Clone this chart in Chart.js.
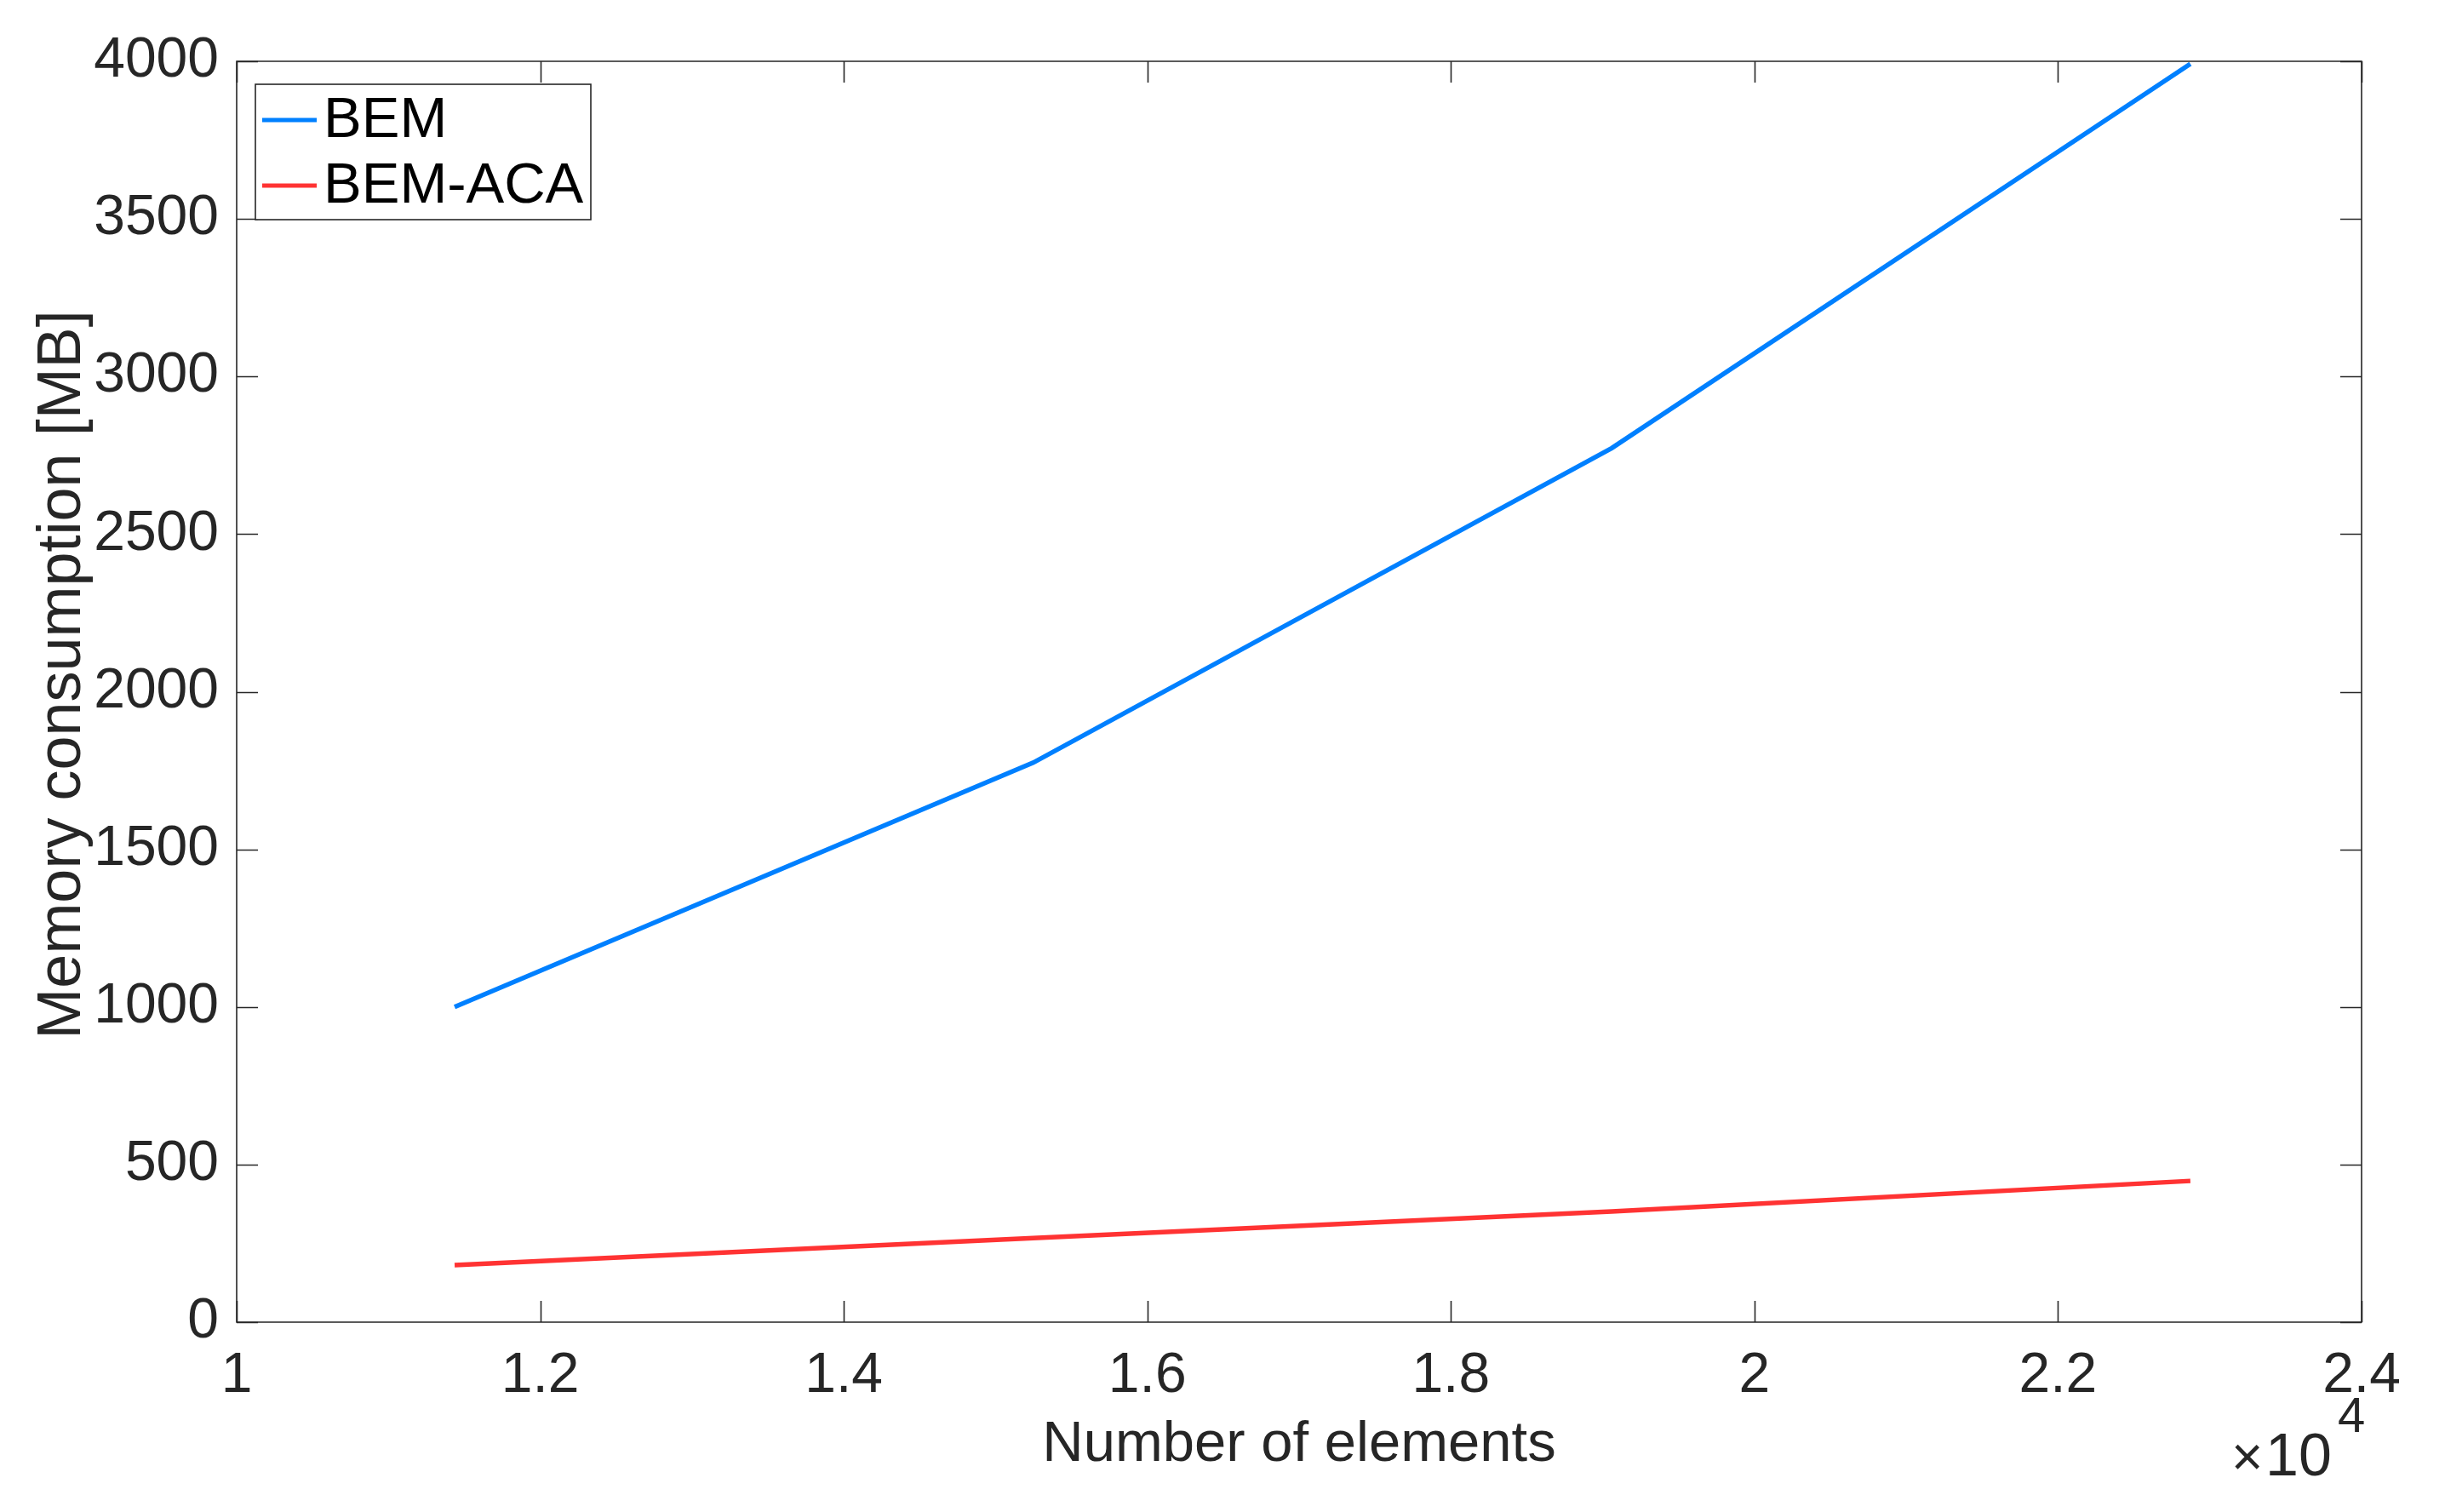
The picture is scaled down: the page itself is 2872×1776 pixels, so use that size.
<!DOCTYPE html>
<html>
<head>
<meta charset="utf-8">
<script src="https://cdn.jsdelivr.net/npm/chart.js@4/dist/chart.umd.min.js"></script>
<style>
  html, body { margin: 0; padding: 0; background: #ffffff; }
  #wrap { width: 2872px; height: 1776px; }
</style>
</head>
<body>
<div id="wrap"><canvas id="c" width="2872" height="1776"></canvas></div>
<script>
// ---- data ----
const numElements = [11436, 15248, 19060, 22872];
const bemMemory = [1000, 1775, 2773, 3992];
const bemAcaMemory = [181, 267, 351, 448];
const seriesNames = ['BEM', 'BEM-ACA'];
const seriesColors = ['#0080FF', '#FF3333'];
const xTickValues = [10000, 12000, 14000, 16000, 18000, 20000, 22000, 24000];
const xTickLabels = ['1', '1.2', '1.4', '1.6', '1.8', '2', '2.2', '2.4'];
const yTickLabels = ['0', '500', '1000', '1500', '2000', '2500', '3000', '3500', '4000'];
const xTitle = 'Number of elements';
const yTitle = 'Memory consumption [MB]';

const FONT = '"Liberation Sans", Arial, sans-serif';
const AX = '#262626';

const toPts = (xs, ys) => xs.map((x, i) => ({ x: x, y: ys[i] }));

const boxTicks = {
  id: 'boxTicks',
  afterDatasetsDraw(chart) {
    const { ctx, chartArea: a, scales } = chart;
    const L = 25;
    ctx.save();
    ctx.strokeStyle = AX;
    ctx.lineWidth = 1.6;
    ctx.beginPath();
    ctx.rect(a.left, a.top, a.right - a.left, a.bottom - a.top);
    ctx.stroke();
    ctx.beginPath();
    scales.x.ticks.forEach(t => {
      const px = Math.round(scales.x.getPixelForValue(t.value)) + 0.5;
      ctx.moveTo(px, a.bottom); ctx.lineTo(px, a.bottom - L);
      ctx.moveTo(px, a.top); ctx.lineTo(px, a.top + L);
    });
    scales.y.ticks.forEach(t => {
      const py = Math.round(scales.y.getPixelForValue(t.value)) + 0.5;
      ctx.moveTo(a.left, py); ctx.lineTo(a.left + L, py);
      ctx.moveTo(a.right, py); ctx.lineTo(a.right - L, py);
    });
    ctx.stroke();

    // legend box
    const lx = a.left + 22, ly = a.top + 27, lw = 394, lh = 159;
    ctx.fillStyle = '#ffffff';
    ctx.fillRect(lx, ly, lw, lh);
    ctx.lineWidth = 1.6;
    ctx.strokeStyle = AX;
    ctx.strokeRect(lx, ly, lw, lh);
    ctx.font = '67px ' + FONT;
    ctx.textBaseline = 'middle';
    ctx.textAlign = 'left';
    chart.data.datasets.forEach((ds, i) => {
      const cy = ly + 42 + i * 77;
      ctx.strokeStyle = ds.borderColor;
      ctx.lineWidth = 5;
      ctx.beginPath();
      ctx.moveTo(lx + 8, cy); ctx.lineTo(lx + 72, cy);
      ctx.stroke();
      ctx.fillStyle = '#000000';
      ctx.fillText(ds.label, lx + 80, cy + 2);
    });

    // x10^4 exponent label
    ctx.fillStyle = AX;
    ctx.textBaseline = 'alphabetic';
    ctx.font = '64px ' + FONT;
    ctx.fillText('\u00D7', a.right - 153, 1733);
    ctx.font = '70px ' + FONT;
    ctx.fillText('10', a.right - 113, 1733);
    ctx.font = '58px ' + FONT;
    ctx.fillText('4', a.right - 28, 1682);
    ctx.restore();
  }
};

new Chart(document.getElementById('c'), {
  type: 'line',
  data: {
    datasets: [
      { label: seriesNames[0], data: toPts(numElements, bemMemory), borderColor: seriesColors[0], backgroundColor: seriesColors[0], borderWidth: 5.5, pointRadius: 0, tension: 0, fill: false },
      { label: seriesNames[1], data: toPts(numElements, bemAcaMemory), borderColor: seriesColors[1], backgroundColor: seriesColors[1], borderWidth: 5.5, pointRadius: 0, tension: 0, fill: false }
    ]
  },
  options: {
    responsive: false,
    animation: false,
    devicePixelRatio: 1,
    layout: { padding: { left: 31, right: 98, top: 72, bottom: 0 } },
    plugins: { legend: { display: false }, tooltip: { enabled: false } },
    scales: {
      x: {
        type: 'linear',
        min: 10000, max: 24000,
        afterBuildTicks: s => { s.ticks = xTickValues.map(v => ({ value: v })); },
        afterFit: s => { s.height = 223; },
        grid: { display: false, drawTicks: false },
        border: { display: false },
        ticks: {
          padding: 24,
          color: AX,
          font: { family: FONT, size: 66 },
          maxRotation: 0,
          callback: (v, i) => xTickLabels[xTickValues.indexOf(v)]
        },
        title: { display: true, text: xTitle, color: AX, font: { family: FONT, size: 67 }, padding: { top: 0, bottom: 38 } }
      },
      y: {
        type: 'linear',
        min: 0, max: 4000,
        afterBuildTicks: s => { s.ticks = yTickLabels.map(v => ({ value: Number(v) })); },
        afterFit: s => { s.width = 247; },
        grid: { display: false, drawTicks: false },
        border: { display: false },
        ticks: {
          padding: 21,
          color: AX,
          font: { family: FONT, size: 66 },
          callback: (v) => yTickLabels[yTickLabels.indexOf(String(v))]
        },
        title: { display: true, text: '  ' + yTitle, color: AX, font: { family: FONT, size: 72 }, padding: { top: 0, bottom: 0 } }
      }
    }
  },
  plugins: [boxTicks]
});
</script>
</body>
</html>
